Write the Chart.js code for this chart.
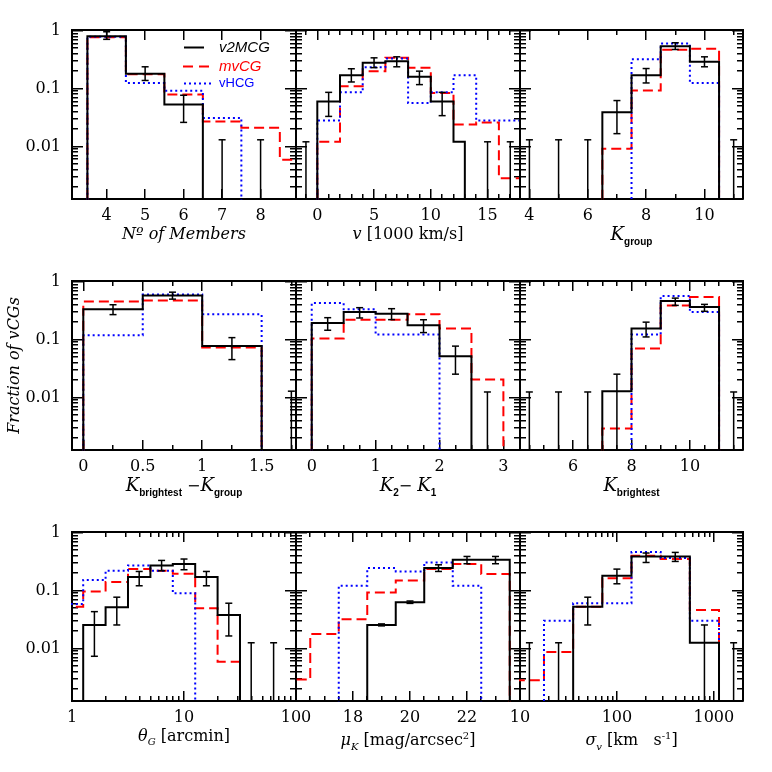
<!DOCTYPE html>
<html><head><meta charset="utf-8">
<script src="https://cdn.jsdelivr.net/npm/chart.js@4/dist/chart.umd.min.js"></script>
<style>
html,body{margin:0;padding:0;background:#fff;}
#wrap{position:relative;width:772px;height:772px;overflow:hidden;background:#fff;}
#wrap canvas{position:absolute;}
.xt{position:absolute;text-align:center;font-family:'DejaVu Serif',serif;font-size:16px;color:#000;white-space:nowrap;line-height:20px;}
.xt i{font-style:italic;}
.xt .K{font-style:italic;font-size:18px;}
.xt .sb{font-family:'Liberation Sans',sans-serif;font-weight:bold;font-size:10px;position:relative;top:5px;}
.xt sub{font-size:10px;}
.xt sup{font-size:10px;}
</style></head>
<body><div id="wrap"></div>
<script>
// ---------------- data ----------------
const seriesNames = ['v2MCG', 'mvCG', 'vHCG'];

// Number of members
const memEdges = [3.5, 4.5, 5.5, 6.5, 7.5, 8.5, 9.5];
const memV2MCG = [0.80, 0.18, 0.053, 0, 0, 0];
const memMvCG  = [0.775, 0.177, 0.079, 0.027, 0.021, 0.0059];
const memVHCG  = [0.79, 0.125, 0.092, 0.031, 0, 0];
const memErrX  = [4, 5, 6, 7, 8];
const memErrLo = [0.71, 0.138, 0.026, 0, 0];
const memErrHi = [0.96, 0.238, 0.0766, 0.013, 0.013];
const memTicks = [4, 5, 6, 7, 8];
const memTickLabels = ['4', '5', '6', '7', '8'];
const memMinor = [];

// velocity [1000 km/s]
const vEdges   = [0, 2, 4, 6, 8, 10, 12, 14, 16, 18];
const vV2Edges = [0, 2, 4, 6, 8, 10, 12, 13];
const vV2MCG = [0.060, 0.17, 0.28, 0.297, 0.16, 0.060, 0.012];
const vMvCG  = [0.012, 0.11, 0.20, 0.34, 0.23, 0.084, 0.024, 0.026, 0.0028];
const vVHCG  = [0.028, 0.086, 0.234, 0.33, 0.056, 0.086, 0.17, 0.028, 0.028];
const vErrX  = [-1, 1, 3, 5, 7, 9, 11, 15, 17];
const vErrLo = [0, 0.033, 0.13, 0.23, 0.238, 0.117, 0.034, 0, 0];
const vErrHi = [0.012, 0.086, 0.22, 0.34, 0.354, 0.20, 0.086, 0.012, 0.012];
const vTicks = [0, 5, 10, 15];
const vTickLabels = ['0', '5', '10', '15'];
const vMinor = [-1, 1, 2, 3, 4, 6, 7, 8, 9, 11, 12, 13, 14, 16, 17];

// K group
const kgEdges = [6.5, 7.5, 8.5, 9.5, 10.5];
const kgV2MCG = [0.039, 0.17, 0.54, 0.29];
const kgMvCG  = [0.0091, 0.093, 0.47, 0.49];
const kgVHCG  = [0, 0.32, 0.60, 0.125];
const kgErrX  = [4, 5, 6, 7, 8, 9, 10, 11];
const kgErrLo = [0, 0, 0, 0.0166, 0.125, 0.474, 0.238, 0];
const kgErrHi = [0.013, 0.013, 0.013, 0.062, 0.222, 0.62, 0.354, 0.013];
const kgTicks = [4, 6, 8, 10];
const kgTickLabels = ['4', '6', '8', '10'];
const kgMinor = [5, 7, 9, 11];

// K brightest - K group
const dkEdges = [0, 0.5, 1, 1.5];
const dkV2MCG = [0.333, 0.58, 0.077];
const dkMvCG  = [0.457, 0.476, 0.073];
const dkVHCG  = [0.119, 0.60, 0.273];
const dkErrX  = [0.25, 0.75, 1.25, 1.75];
const dkErrLo = [0.27, 0.50, 0.045, 0];
const dkErrHi = [0.40, 0.66, 0.108, 0.0128];
const dkTicks = [0, 0.5, 1, 1.5];
const dkTickLabels = ['0', '0.5', '1', '1.5'];
const dkMinor = [0.25, 0.75, 1.25, 1.75];

// K2 - K1
const k21Edges = [0, 0.5, 1, 1.5, 2, 2.5, 3];
const k21V2MCG = [0.193, 0.30, 0.28, 0.176, 0.0515, 0];
const k21MvCG  = [0.104, 0.221, 0.221, 0.273, 0.155, 0.0204];
const k21VHCG  = [0.428, 0.333, 0.122, 0.122, 0, 0];
const k21ErrX  = [0.25, 0.75, 1.25, 1.75, 2.25, 2.75];
const k21ErrLo = [0.145, 0.236, 0.221, 0.132, 0.0252, 0];
const k21ErrHi = [0.239, 0.356, 0.342, 0.22, 0.077, 0.0124];
const k21Ticks = [0, 1, 2, 3];
const k21TickLabels = ['0', '1', '2', '3'];
const k21Minor = [0.25, 0.5, 0.75, 1.25, 1.5, 1.75, 2.25, 2.5, 2.75, 3.25];

// K brightest
const kbEdges = [7, 8, 9, 10, 11];
const kbV2MCG = [0.0128, 0.155, 0.463, 0.365];
const kbMvCG  = [0.0029, 0.070, 0.39, 0.543];
const kbVHCG  = [0, 0.122, 0.565, 0.30];
const kbErrX  = [4.5, 5.5, 6.5, 7.5, 8.5, 9.5, 10.5, 11.5];
const kbErrLo = [0, 0, 0, 0, 0.111, 0.39, 0.308, 0];
const kbErrHi = [0.0124, 0.0124, 0.0124, 0.0252, 0.20, 0.521, 0.406, 0.0124];
const kbTicks = [6, 8, 10];
const kbTickLabels = ['6', '8', '10'];
const kbMinor = [4.5, 5, 5.5, 6.5, 7, 7.5, 8.5, 9, 9.5, 10.5, 11, 11.5];

// theta_G [arcmin]
const thEdges = [0.794, 1.259, 1.995, 3.162, 5.012, 7.943, 12.59, 19.95, 31.62, 50.12, 79.43];
const thV2MCG = [0, 0.0254, 0.0515, 0.171, 0.272, 0.287, 0.171, 0.0379, 0, 0];
const thMvCG  = [0.0527, 0.096, 0.14, 0.235, 0.22, 0.195, 0.0495, 0.0059, 0, 0];
const thVHCG  = [0.0588, 0.153, 0.22, 0.272, 0.22, 0.090, 0, 0, 0, 0];
const thErrX  = [1.585, 2.512, 3.981, 6.310, 10, 15.85, 25.12, 39.81, 63.10];
const thErrLo = [0.0073, 0.0254, 0.121, 0.22, 0.229, 0.121, 0.0164, 0, 0];
const thErrHi = [0.0432, 0.0768, 0.214, 0.332, 0.351, 0.214, 0.0604, 0.0125, 0.0125];
const thTicks = [1, 10, 100];
const thTickLabels = ['1', '10', '100'];
const thMinor = [2, 3, 4, 5, 6, 7, 8, 9, 20, 30, 40, 50, 60, 70, 80, 90];

// mu_K [mag/arcsec^2]
const muEdges = [15.5, 16.5, 17.5, 18.5, 19.5, 20.5, 21.5, 22.5, 23.5];
const muV2MCG = [0, 0, 0, 0.0254, 0.0629, 0.245, 0.341, 0.341];
const muMvCG  = [0.0029, 0.0177, 0.0319, 0.0923, 0.149, 0.235, 0.287, 0.193];
const muVHCG  = [0, 0, 0.121, 0.245, 0.214, 0.306, 0.121, 0];
const muErrX  = [19, 20, 21, 22, 23];
const muErrLo = [0.0245, 0.060, 0.214, 0.291, 0.291];
const muErrHi = [0.0265, 0.066, 0.279, 0.389, 0.389];
const muTicks = [16, 18, 20, 22];
const muTickLabels = ['', '18', '20', '22'];
const muMinor = [16.5, 17, 17.5, 18.5, 19, 19.5, 20.5, 21, 21.5, 22.5, 23, 23.5];

// sigma_v [km/s]
const sgEdges = [8.84, 17.68, 35.36, 70.71, 141.4, 282.8, 565.7, 1131, 2263];
const sgV2MCG = [0, 0, 0.0527, 0.18, 0.389, 0.389, 0.0125, 0];
const sgMvCG  = [0.0028, 0.0087, 0.0527, 0.164, 0.40, 0.351, 0.0462, 0];
const sgVHCG  = [0, 0.0301, 0.0604, 0.0604, 0.464, 0.365, 0.0301, 0];
const sgErrX  = [12.5, 25, 50, 100, 200, 400, 800, 1600];
const sgErrLo = [0, 0, 0.0254, 0.131, 0.306, 0.319, 0, 0];
const sgErrHi = [0.0125, 0.0125, 0.0768, 0.235, 0.446, 0.457, 0.0254, 0.0125];
const sgTicks = [10, 100, 1000];
const sgTickLabels = ['10', '100', '1000'];
const sgMinor = [20, 30, 40, 50, 60, 70, 80, 90, 200, 300, 400, 500, 600, 700, 800, 900, 2000];

// y axis (fraction)
const yTicks = [0.01, 0.1, 1];
const yTickLabels = ['0.01', '0.1', '1'];
const yMinor = [0.002, 0.003, 0.004, 0.005, 0.006, 0.007, 0.008, 0.009,
                0.02, 0.03, 0.04, 0.05, 0.06, 0.07, 0.08, 0.09,
                0.2, 0.3, 0.4, 0.5, 0.6, 0.7, 0.8, 0.9];
const yTitle = 'Fraction of vCGs';

// ---------------- layout ----------------
const rowTop = [30, 281, 532];
const colLeft = [72, 296, 520];
const colW = [224, 224, 223];
const frameH = 169;
const ML = [72, 40, 40], MR = 40, MT = 34, MB = 36;
const Y_MIN = 0.00123, Y_MAX = 1.03, FLOOR = 1e-5;

const panels = [
  {r:0, c:0, xlog:false, xmin:3.1, xmax:8.92, edges:memEdges, black:memV2MCG, red:memMvCG, blue:memVHCG, ex:memErrX, elo:memErrLo, ehi:memErrHi, maj:memTicks, lab:memTickLabels, minor:memMinor, legend:true,
   title:'<i>Nº of Members</i>'},
  {r:0, c:1, xlog:false, xmin:-1.877, xmax:17.86, edges:vEdges, blackEdges:vV2Edges, black:vV2MCG, red:vMvCG, blue:vVHCG, ex:vErrX, elo:vErrLo, ehi:vErrHi, maj:vTicks, lab:vTickLabels, minor:vMinor,
   title:'<i>v</i> [1000 km/s]'},
  {r:0, c:2, xlog:false, xmin:3.678, xmax:11.32, edges:kgEdges, black:kgV2MCG, red:kgMvCG, blue:kgVHCG, ex:kgErrX, elo:kgErrLo, ehi:kgErrHi, maj:kgTicks, lab:kgTickLabels, minor:kgMinor,
   title:'<span class="K">K</span><span class="sb">group</span>'},
  {r:1, c:0, xlog:false, xmin:-0.095, xmax:1.789, edges:dkEdges, black:dkV2MCG, red:dkMvCG, blue:dkVHCG, ex:dkErrX, elo:dkErrLo, ehi:dkErrHi, maj:dkTicks, lab:dkTickLabels, minor:dkMinor, ytitle:true,
   title:'<span class="K">K</span><span class="sb">brightest</span> &minus;<span class="K">K</span><span class="sb">group</span>'},
  {r:1, c:1, xlog:false, xmin:-0.246, xmax:3.26, edges:k21Edges, black:k21V2MCG, red:k21MvCG, blue:k21VHCG, ex:k21ErrX, elo:k21ErrLo, ehi:k21ErrHi, maj:k21Ticks, lab:k21TickLabels, minor:k21Minor,
   title:'<span class="K">K</span><span class="sb">2</span>&minus; <span class="K">K</span><span class="sb">1</span>'},
  {r:1, c:2, xlog:false, xmin:4.18, xmax:11.82, edges:kbEdges, black:kbV2MCG, red:kbMvCG, blue:kbVHCG, ex:kbErrX, elo:kbErrLo, ehi:kbErrHi, maj:kbTicks, lab:kbTickLabels, minor:kbMinor,
   title:'<span class="K">K</span><span class="sb">brightest</span>'},
  {r:2, c:0, xlog:true, xmin:1, xmax:100, edges:thEdges, black:thV2MCG, red:thMvCG, blue:thVHCG, ex:thErrX, elo:thErrLo, ehi:thErrHi, maj:thTicks, lab:thTickLabels, minor:thMinor,
   title:'<i>θ</i><sub><i>G</i></sub> [arcmin]'},
  {r:2, c:1, xlog:false, xmin:16, xmax:23.86, edges:muEdges, black:muV2MCG, red:muMvCG, blue:muVHCG, ex:muErrX, elo:muErrLo, ehi:muErrHi, maj:muTicks, lab:muTickLabels, minor:muMinor,
   title:'<i>μ</i><sub><i>K</i></sub> [mag/arcsec<sup>2</sup>]'},
  {r:2, c:2, xlog:true, xmin:10, xmax:2000, edges:sgEdges, black:sgV2MCG, red:sgMvCG, blue:sgVHCG, ex:sgErrX, elo:sgErrLo, ehi:sgErrHi, maj:sgTicks, lab:sgTickLabels, minor:sgMinor,
   title:'<i>σ</i><sub><i>v</i></sub> [km&nbsp;&nbsp; s<sup>-1</sup>]'}
];

// ---------------- helpers ----------------
function steps(edges, vals) {
  const pts = [{x: edges[0], y: FLOOR}];
  for (let i = 0; i < vals.length; i++) {
    const y = vals[i] > 0 ? vals[i] : FLOOR;
    pts.push({x: edges[i], y: y}, {x: edges[i + 1], y: y});
  }
  pts.push({x: edges[vals.length], y: FLOOR});
  return pts;
}
function errPts(xs, lo, hi) {
  const pts = [];
  xs.forEach((x, i) => {
    pts.push({x: x, y: lo[i] > 0 ? lo[i] : FLOOR}, {x: x, y: hi[i]}, {x: x, y: null});
  });
  return pts;
}

const tickFont = {family: 'DejaVu Serif', size: 16};
function axisDef(o) {
  return {
    type: o.type, axis: o.axis, position: o.position, min: o.min, max: o.max, weight: o.weight,
    afterBuildTicks: s => { s.ticks = o.vals.map(v => ({value: v})); },
    afterFit: s => { if (o.axis === 'x') s.height = o.size; else s.width = o.size; },
    grid: {display: true, drawOnChartArea: false, drawTicks: true, tickLength: o.len,
           tickWidth: 1.5, tickColor: '#000', lineWidth: 1.5, color: '#000'},
    border: {display: o.border, color: '#000', width: 2},
    ticks: o.labels ? {display: true, autoSkip: false, maxRotation: 0, minRotation: 0, padding: o.pad,
                       color: '#000', font: tickFont, callback: (v, i) => o.labels[i]}
                    : {display: false, autoSkip: false},
    title: o.title || {display: false}
  };
}

const legendPlugin = {
  id: 'insideLegend',
  afterDatasetsDraw(chart) {
    const ctx = chart.ctx, a = chart.chartArea;
    const rows = [
      {name: seriesNames[0], color: '#000000', dash: [], x1: 112, x2: 132, font: 'italic 15px "Liberation Sans"', dy: 17.5},
      {name: seriesNames[1], color: '#ff0000', dash: [10, 6], x1: 111, x2: 139, font: 'italic 15px "Liberation Sans"', dy: 36.5},
      {name: seriesNames[2], color: '#0000ff', dash: [2, 3], x1: 112, x2: 139, font: '13px "Liberation Sans"', dy: 53.5}
    ];
    ctx.save();
    rows.forEach(r => {
      const y = a.top + r.dy;
      ctx.beginPath();
      ctx.setLineDash(r.dash);
      ctx.lineWidth = 2;
      ctx.strokeStyle = r.color;
      ctx.moveTo(a.left + r.x1, y);
      ctx.lineTo(a.left + r.x2, y);
      ctx.stroke();
      ctx.setLineDash([]);
      ctx.fillStyle = r.color;
      ctx.font = r.font;
      ctx.textBaseline = 'middle';
      ctx.textAlign = 'left';
      ctx.fillText(r.name, a.left + 147, y);
    });
    ctx.restore();
  }
};

const wrap = document.getElementById('wrap');
panels.forEach(p => {
  const ml = ML[p.c];
  const W = colW[p.c];
  const cw = ml + W + MR, ch = MT + frameH + MB;
  const cv = document.createElement('canvas');
  cv.width = cw; cv.height = ch;
  cv.style.width = cw + 'px'; cv.style.height = ch + 'px';
  cv.style.left = (colLeft[p.c] - ml) + 'px';
  cv.style.top = (rowTop[p.r] - MT) + 'px';
  wrap.appendChild(cv);

  const xType = p.xlog ? 'logarithmic' : 'linear';
  const scales = {};
  scales.x = axisDef({type: xType, axis: 'x', position: 'bottom', min: p.xmin, max: p.xmax, weight: 10,
    vals: p.maj, len: -10, border: true, labels: p.lab, pad: 17, size: MB});
  scales.xt = axisDef({type: xType, axis: 'x', position: 'top', min: p.xmin, max: p.xmax, weight: 0,
    vals: p.maj, len: -10, border: true, size: 0});
  if (p.minor.length) {
    scales.x2 = axisDef({type: xType, axis: 'x', position: 'bottom', min: p.xmin, max: p.xmax, weight: 0,
      vals: p.minor, len: -5, border: false, size: 0});
    scales.xt2 = axisDef({type: xType, axis: 'x', position: 'top', min: p.xmin, max: p.xmax, weight: 1,
      vals: p.minor, len: -5, border: false, size: 0});
  }
  const yTitleOpt = p.ytitle ? {display: true, text: yTitle, color: '#000',
      font: {family: 'DejaVu Serif', style: 'italic', size: 16}, padding: {top: 5, bottom: 0}} : null;
  scales.y = axisDef({type: 'logarithmic', axis: 'y', position: 'left', min: Y_MIN, max: Y_MAX, weight: 10,
    vals: yTicks, len: -11, border: true, labels: p.c === 0 ? yTickLabels : null, pad: 22, size: ml, title: yTitleOpt});
  scales.y2 = axisDef({type: 'logarithmic', axis: 'y', position: 'left', min: Y_MIN, max: Y_MAX, weight: 0,
    vals: yMinor, len: -6, border: false, size: 0});
  scales.yr = axisDef({type: 'logarithmic', axis: 'y', position: 'right', min: Y_MIN, max: Y_MAX, weight: 1,
    vals: yTicks, len: -11, border: true, size: 0});
  scales.yr2 = axisDef({type: 'logarithmic', axis: 'y', position: 'right', min: Y_MIN, max: Y_MAX, weight: 0,
    vals: yMinor, len: -6, border: false, size: 0});

  const base = {type: 'line', xAxisID: 'x', yAxisID: 'y', pointRadius: 0, tension: 0, fill: false,
                clip: 1, borderCapStyle: 'butt', borderJoinStyle: 'miter', spanGaps: false};
  const datasets = [
    Object.assign({}, base, {label: 'err', data: errPts(p.ex, p.elo, p.ehi), borderColor: '#000', borderWidth: 1.5,
      pointStyle: 'line', pointRadius: 3.5, pointBorderWidth: 1.5, pointBorderColor: '#000', pointBackgroundColor: '#000'}),
    Object.assign({}, base, {label: seriesNames[0], data: steps(p.blackEdges || p.edges, p.black), borderColor: '#000000', borderWidth: 2}),
    Object.assign({}, base, {label: seriesNames[2], data: steps(p.edges, p.blue), borderColor: '#0000ff', borderWidth: 2, borderDash: [2, 3]}),
    Object.assign({}, base, {label: seriesNames[1], data: steps(p.edges, p.red), borderColor: '#ff0000', borderWidth: 2, borderDash: [10, 5]})
  ];

  new Chart(cv, {
    type: 'line',
    data: {datasets: datasets},
    options: {
      responsive: false, animation: false, events: [], devicePixelRatio: 1,
      layout: {padding: {left: 0, right: MR, top: MT, bottom: 0}},
      plugins: {legend: {display: false}, tooltip: {enabled: false}, title: {display: false}},
      scales: scales
    },
    plugins: p.legend ? [legendPlugin] : []
  });

  const t = document.createElement('div');
  t.className = 'xt';
  t.innerHTML = p.title;
  t.style.left = colLeft[p.c] + 'px';
  t.style.width = W + 'px';
  t.style.top = (rowTop[p.r] + frameH + 25) + 'px';
  wrap.appendChild(t);
});
</script>
</body></html>
